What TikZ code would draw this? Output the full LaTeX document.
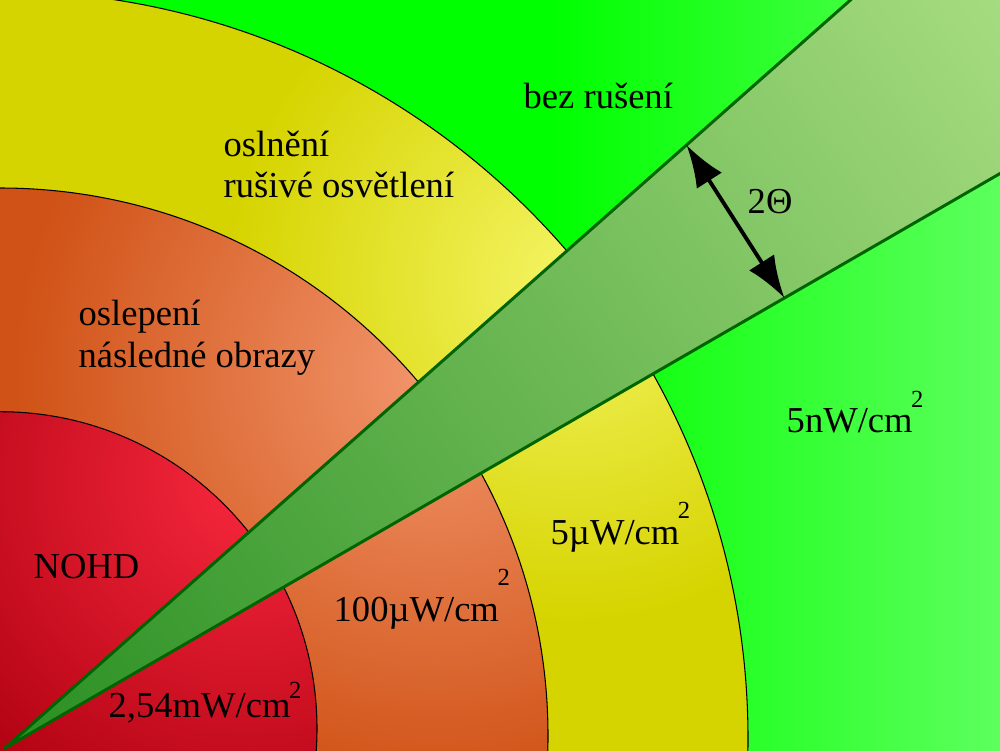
\documentclass[tikz,border=0pt]{standalone}
\usepackage{fontspec}
\setmainfont{Liberation Serif}
\usetikzlibrary{arrows.meta,calc}
\definecolor{bgdark}{RGB}{0,255,0}
\definecolor{bglight}{RGB}{135,255,135}
\definecolor{ylwdark}{RGB}{214,212,0}
\definecolor{ylwlight}{RGB}{244,244,100}
\definecolor{orgdark}{RGB}{208,82,22}
\definecolor{orglight}{RGB}{242,150,108}
\definecolor{reddark}{RGB}{172,0,15}
\definecolor{redlight}{RGB}{248,40,62}
\definecolor{beamdark}{RGB}{20,130,20}
\definecolor{beamlight}{RGB}{212,248,162}
\definecolor{beamedge}{RGB}{0,100,0}
\newcommand{\sqpow}[1]{\kern-0.4pt\raisebox{#1}{\fontsize{7}{7}\selectfont 2}}
\tikzset{
  lbl/.style={anchor=base west, inner sep=0pt, font=\fontsize{10.4}{12}\selectfont},
  zone/.style={draw=black, line width=0.3pt},
  dblarrow/.style={line width=1.1pt, {Latex[length=12pt,width=8.5pt]}-{Latex[length=12pt,width=8.5pt]}},
}

\begin{document}
\begin{tikzpicture}
  \useasboundingbox (0,0) rectangle (10,7.5);
  \clip (0,0) rectangle (10,7.5);
  % background
  \fill[bgdark] (0,0) rectangle (10,7.5);
  \shade[left color=bgdark, right color=bglight] (5.5,0) rectangle (12,7.5);
  % zones
  \coordinate (cy) at (0,0.11);
  \coordinate (co) at (0,0.14);
  \coordinate (cr) at (0,0.213);
  \begin{scope}
    \clip (cy) circle (7.48);
    \fill[ylwdark] (cy) circle (7.48);
    \shade[inner color=ylwlight, outer color=ylwdark] (5.7,4.7) circle (3.4);
  \end{scope}
  \draw[zone] (cy) circle (7.48);
  \begin{scope}
    \clip (co) circle (5.48);
    \fill[orgdark] (co) circle (5.48);
    \shade[inner color=orglight, outer color=orgdark] (4.35,3.75) circle (4.2);
  \end{scope}
  \draw[zone] (co) circle (5.48);
  \begin{scope}
    \clip (cr) circle (3.17);
    \fill[reddark] (cr) circle (3.17);
    \shade[inner color=redlight, outer color=reddark] (2.5,2.7) circle (4.0);
  \end{scope}
  \draw[zone] (cr) circle (3.17);
  % beam
  \coordinate (src) at (0.05,0.02);
  \coordinate (bu) at ($(src)+(41.5:14)$);
  \coordinate (bl) at ($(src)+(30:14)$);
  \begin{scope}
    \clip (src) -- (bu) -- (bl) -- cycle;
    \begin{scope}[transform canvas={shift={(0.05,0.02)}, rotate=35.75}]
      \shade[left color=beamdark, right color=beamlight] (-2,-8) rectangle (17,8);
    \end{scope}
  \end{scope}
  \draw[beamedge, line width=0.85pt, line join=round] (src) -- (bu) -- (bl) -- cycle;
  \coordinate (au) at ($(src)+(41.5:9.1)$);
  \coordinate (al) at ($(src)+(30:9.0)$);
  \draw[dblarrow] (au) -- (al);
  % labels
  \node[lbl] (quiet) at (5.23,6.42) {bez rušení};
  \node[lbl] (dazzle) at (2.23,5.94) {oslnění};
  \node[lbl] (glare) at (2.23,5.52) {rušivé osvětlení};
  \node[lbl] (blind) at (0.78,4.25) {oslepení};
  \node[lbl] (after) at (0.78,3.83) {následné obrazy};
  \node[lbl] (nohd) at (0.33,1.72) {NOHD};
  \node[lbl] (lvlr) at (1.08,0.33) {2,54mW/cm\sqpow{5.4pt}};
  \node[lbl] (lvlo) at (3.33,1.29) {100µW/cm\sqpow{10.2pt}};
  \node[lbl] (lvly) at (5.50,2.06) {5µW/cm\sqpow{7.4pt}};
  \node[lbl] (lvlg) at (7.86,3.18) {5nW/cm\sqpow{7.1pt}};
  \node[lbl] (theta) at (7.47,5.37) {2Θ};
\end{tikzpicture}
\end{document}
